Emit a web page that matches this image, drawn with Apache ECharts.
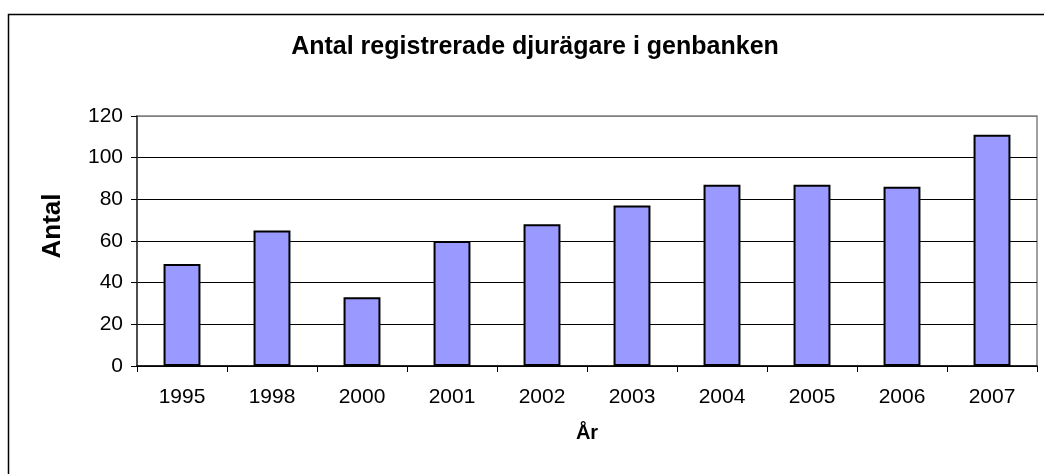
<!DOCTYPE html>
<html>
<head>
<meta charset="utf-8">
<script src="https://cdn.jsdelivr.net/npm/echarts@6/dist/echarts.min.js"></script>
<style>html,body{margin:0;padding:0;background:#fff}#c{width:1044px;height:474px}</style>
</head>
<body>
<div id="c"></div>
<script>
const categories = ['1995','1998','2000','2001','2002','2003','2004','2005','2006','2007'];
const values = [49, 65, 33, 60, 68, 77, 87, 87, 86, 111];
const titleText = 'Antal registrerade djurägare i genbanken';
const xName = 'År';
const yName = 'Antal';

const chart = echarts.init(document.getElementById('c'), null, {renderer: 'canvas'});
const FONT = '"Liberation Sans", Arial, sans-serif';
chart.setOption({
  animation: false,
  backgroundColor: '#fff',
  textStyle: {fontFamily: FONT},
  title: {
    text: titleText,
    left: 530,
    top: 30,
    textAlign: 'center',
    textStyle: {fontFamily: FONT, fontSize: 25, fontWeight: 'bold', color: '#000'}
  },
  graphic: [{
    type: 'rect',
    shape: {x: 8.5, y: 14.5, width: 1200, height: 600},
    style: {fill: 'none', stroke: '#000', lineWidth: 1.5},
    silent: true
  }],
  grid: {
    left: 137, top: 116, right: 7, bottom: 108,
    show: true, borderColor: '#808080', borderWidth: 1.5, backgroundColor: 'transparent'
  },
  xAxis: {
    type: 'category',
    data: categories,
    boundaryGap: true,
    name: xName,
    nameLocation: 'middle',
    nameGap: 57,
    nameTextStyle: {fontFamily: FONT, fontSize: 20, fontWeight: 'bold', color: '#000'},
    axisLine: {show: true, lineStyle: {color: '#000', width: 1.5}},
    axisTick: {show: true, length: 6, inside: false, lineStyle: {color: '#000'}},
    axisLabel: {color: '#000', fontSize: 21, fontFamily: FONT, margin: 21}
  },
  yAxis: {
    type: 'value',
    min: 0, max: 120, interval: 20,
    name: yName,
    nameLocation: 'middle',
    nameGap: 71,
    nameTextStyle: {fontFamily: FONT, fontSize: 26, fontWeight: 'bold', color: '#000', padding: [0, 0, 0, 30]},
    axisLine: {show: true, lineStyle: {color: '#333', width: 1.5}},
    axisTick: {show: true, length: 6, lineStyle: {color: '#000'}},
    axisLabel: {color: '#000', fontSize: 21, fontFamily: FONT, margin: 14},
    splitLine: {show: true, lineStyle: {color: ['#000','#000','#000','#000','#000','#000','#808080'], width: 1}}
  },
  series: [{
    type: 'bar',
    data: values,
    barWidth: '41%',
    itemStyle: {color: '#9999FF', borderColor: '#000', borderWidth: 2}
  }]
});
</script>
</body>
</html>
